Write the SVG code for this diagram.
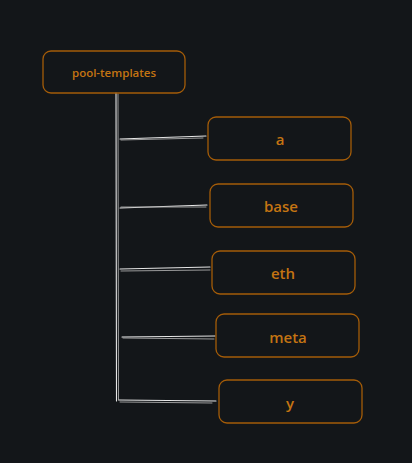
<svg xmlns="http://www.w3.org/2000/svg" width="412" height="463" viewBox="0 0 412 463">
<style>
.box{fill:none;stroke:#a45c08;stroke-width:1.3}
.t{fill:#c47412;font-family:"Open Sans","Liberation Sans",sans-serif;font-weight:600;text-anchor:middle;dominant-baseline:central}
.ln{stroke:#e6e6e6;stroke-width:1.1;fill:none;stroke-linecap:round}
.ln2{stroke:#a8a8a8;stroke-width:0.9;fill:none;stroke-linecap:round}
</style>
<rect width="412" height="463" fill="#131619"/>
<g id="connectors">
<path class="ln" d="M116 93 L116.5 401"/>
<path class="ln2" d="M118 94 L118.5 400"/>
<path class="ln" d="M120 139 L206 136"/>
<path class="ln2" d="M121 140 L203 138"/>
<path class="ln" d="M120 208 L207 205"/>
<path class="ln2" d="M121 207 L206 207"/>
<path class="ln" d="M120 269 L210 267"/>
<path class="ln2" d="M121 271 L210 270"/>
<path class="ln" d="M122 337 L215 336"/>
<path class="ln2" d="M123 338 L214 339"/>
<path class="ln" d="M119 400 L216 401"/>
<path class="ln2" d="M120 402 L212 403"/>
</g>
<g id="pool-templates">
<rect class="box" x="43" y="51" width="142" height="42" rx="8"/>
<text class="t" x="114" y="72" font-size="11.5">pool-templates</text>
</g>
<g id="a">
<rect class="box" x="208" y="117" width="143" height="43" rx="8"/>
<text class="t" x="280" y="139" font-size="15">a</text>
</g>
<g id="base">
<rect class="box" x="210" y="184" width="143" height="43" rx="8"/>
<text class="t" x="281" y="206" font-size="15">base</text>
</g>
<g id="eth">
<rect class="box" x="212" y="251" width="143" height="43" rx="8"/>
<text class="t" x="283" y="273" font-size="15">eth</text>
</g>
<g id="meta">
<rect class="box" x="216" y="314" width="143" height="43" rx="8"/>
<text class="t" x="288" y="337" font-size="15">meta</text>
</g>
<g id="y">
<rect class="box" x="219" y="380" width="143" height="43" rx="8"/>
<text class="t" x="290" y="403" font-size="15">y</text>
</g>
</svg>
